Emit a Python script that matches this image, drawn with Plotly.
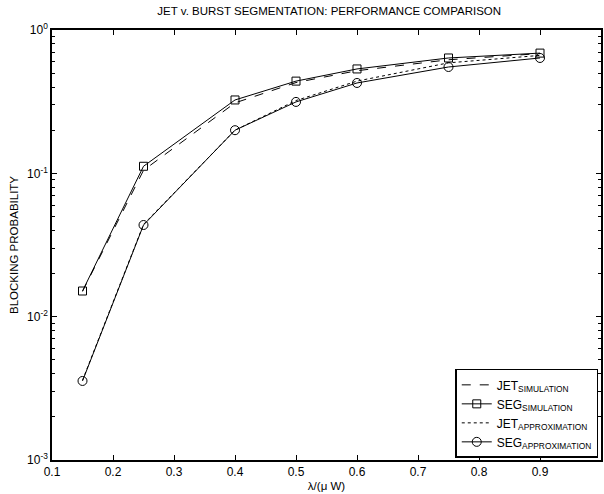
import plotly.graph_objects as go

x = [0.15, 0.25, 0.4, 0.5, 0.6, 0.75, 0.9]
jet_sim = [0.0150, 0.105, 0.31, 0.43, 0.52, 0.62, 0.685]
seg_sim = [0.0151, 0.112, 0.325, 0.44, 0.535, 0.638, 0.69]
jet_approx = [0.0036, 0.0440, 0.20, 0.322, 0.44, 0.59, 0.665]
seg_approx = [0.00356, 0.0436, 0.20, 0.315, 0.427, 0.552, 0.638]

ytickvals = [1e-3, 1e-2, 1e-1, 1]
yticktext = ["10<sup>-3</sup>", "10<sup>-2</sup>", "10<sup>-1</sup>", "10<sup>0</sup>"]
xtickvals = [0.1, 0.2, 0.3, 0.4, 0.5, 0.6, 0.7, 0.8, 0.9, 1.0]
xticktext = ["0.1", "0.2", "0.3", "0.4", "0.5", "0.6", "0.7", "0.8", "0.9", "1"]

FONT = "Liberation Sans, Arial, Helvetica, sans-serif"

fig = go.Figure()
fig.add_trace(go.Scatter(x=x, y=jet_sim, mode="lines", name="JET<sub>SIMULATION</sub>",
                         line=dict(color="black", width=1, dash="dash")))
fig.add_trace(go.Scatter(x=x, y=seg_sim, mode="lines+markers", name="SEG<sub>SIMULATION</sub>",
                         line=dict(color="black", width=1),
                         marker=dict(symbol="square-open", size=8, color="black", line=dict(width=1))))
fig.add_trace(go.Scatter(x=x, y=jet_approx, mode="lines", name="JET<sub>APPROXIMATION</sub>",
                         line=dict(color="black", width=1, dash="dot")))
fig.add_trace(go.Scatter(x=x, y=seg_approx, mode="lines+markers", name="SEG<sub>APPROXIMATION</sub>",
                         line=dict(color="black", width=1),
                         marker=dict(symbol="circle-open", size=9, color="black", line=dict(width=1))))

fig.update_layout(
    width=604, height=494,
    margin=dict(l=52, r=1, t=30, b=34),
    paper_bgcolor="white", plot_bgcolor="white",
    font=dict(family=FONT, size=12, color="black"),
    title=dict(text="JET v. BURST SEGMENTATION: PERFORMANCE COMPARISON", x=0.545, xanchor="center",
               y=0.985, yanchor="top", font=dict(size=11.5)),
    showlegend=True,
    legend=dict(x=0.995, xanchor="right", y=0.005, yanchor="bottom",
                bordercolor="black", borderwidth=1.5, bgcolor="white",
                font=dict(size=12), tracegroupgap=0, itemwidth=30),
    xaxis=dict(range=[0.1, 1.0], tickvals=xtickvals, ticktext=xticktext,
               ticks="inside", ticklen=5, tickcolor="black", showline=True, linecolor="black",
               linewidth=1.5, mirror="ticks", showgrid=False, zeroline=False,
               tickfont=dict(size=12),
               title=dict(text="λ/(μ W)", standoff=4, font=dict(size=11.5))),
    yaxis=dict(type="log", range=[-3, 0], tickvals=ytickvals, ticktext=yticktext,
               ticks="inside", ticklen=5, tickcolor="black", showline=True, linecolor="black",
               linewidth=1.5, mirror="ticks", showgrid=False, zeroline=False,
               tickfont=dict(size=12),
               minor=dict(ticks="inside", ticklen=3, tickcolor="black", dtick="D1", showgrid=False),
               title=dict(text="BLOCKING PROBABILITY", standoff=6, font=dict(size=11.5))),
)

fig.write_html("out.html")
